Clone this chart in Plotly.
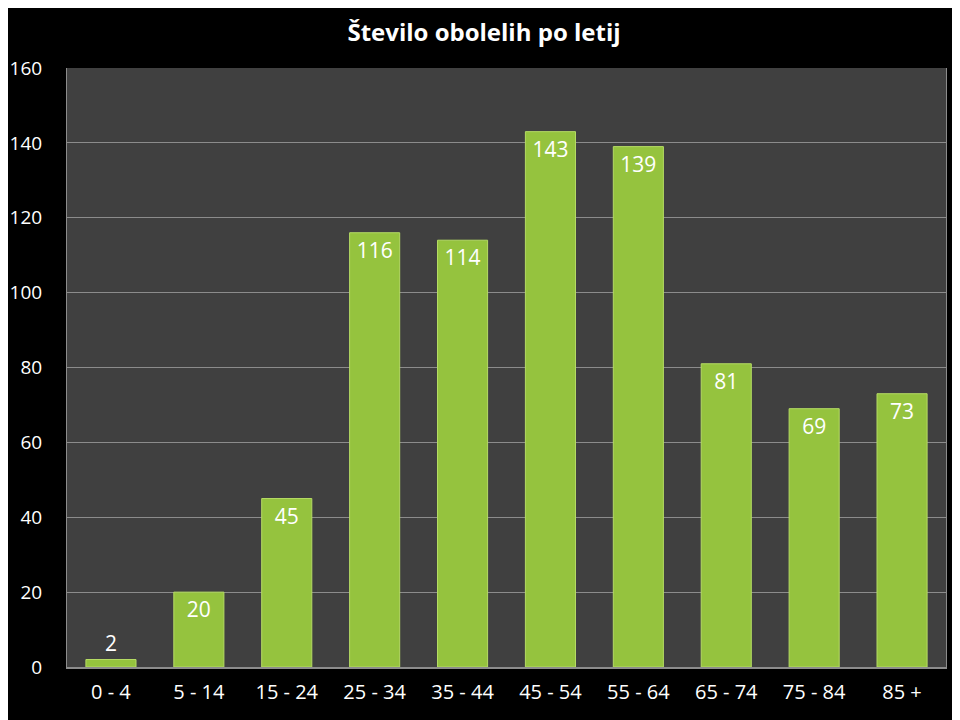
import plotly.graph_objects as go

categories = ["0 - 4", "5 - 14", "15 - 24", "25 - 34", "35 - 44", "45 - 54", "55 - 64", "65 - 74", "75 - 84", "85 +"]
values = [2, 20, 45, 116, 114, 143, 139, 81, 69, 73]
y_ticks = [0, 20, 40, 60, 80, 100, 120, 140, 160]

positions = ["outside" if v < 10 else "inside" for v in values]

fig = go.Figure(go.Bar(
    x=categories, y=values,
    text=[str(v) for v in values],
    textposition=positions,
    insidetextanchor="end",
    textangle=0,
    cliponaxis=False,
    textfont=dict(color="white", size=21, family="Open Sans"),
    outsidetextfont=dict(color="white", size=21, family="Open Sans"),
    marker=dict(color="#95C33E", line=dict(color="#B5DB64", width=1)),
))

fig.update_layout(
    width=952, height=712,
    paper_bgcolor="black", plot_bgcolor="#404040",
    margin=dict(l=59, r=14, t=60, b=53, autoexpand=False),
    bargap=0.43,
    showlegend=False,
    title=dict(text="<b>Število obolelih po letij</b>", x=0.5, xanchor="center", y=0.966, yanchor="middle",
               font=dict(color="white", size=24, family="Open Sans")),
    font=dict(color="white", family="Open Sans", size=19),
)
fig.update_xaxes(showline=True, linecolor="#8C8C8C", linewidth=2, ticks="", tickfont=dict(size=20, color="white"),
                 ticklabelstandoff=6, mirror=False, automargin=False)
fig.update_yaxes(range=[0, 160], tickvals=y_ticks, gridcolor="#8C8C8C", gridwidth=1, zeroline=False,
                 showline=True, linecolor="#8C8C8C", linewidth=1, mirror=True, automargin=False,
                 tickfont=dict(size=19, color="white"), ticklabelstandoff=20)

fig.write_html("out.html")
